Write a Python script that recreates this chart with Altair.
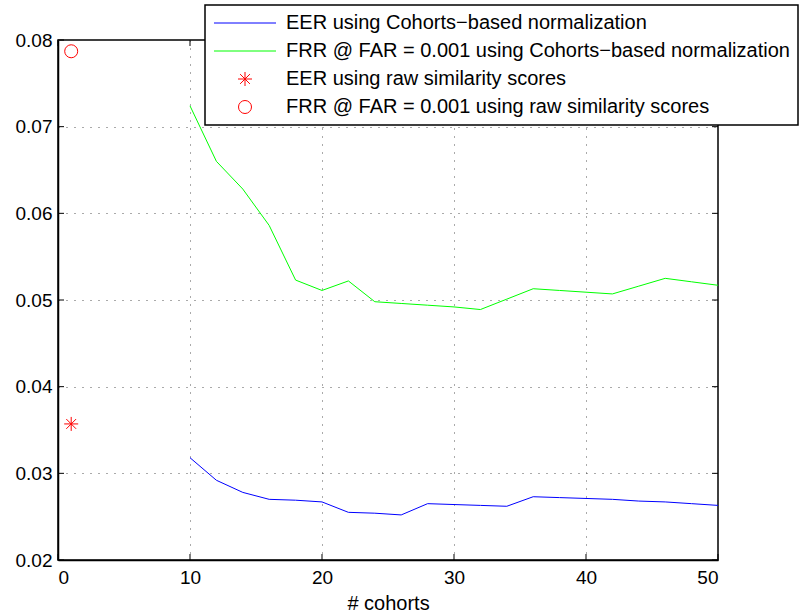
import altair as alt
import pandas as pd

# ---- data ----
cohorts = [10, 12, 14, 16, 18, 20, 22, 24, 26, 28, 30, 32, 34, 36, 38, 40, 42, 44, 46, 48, 50]
eer_cohort = [0.0318, 0.0292, 0.0278, 0.0270, 0.0269, 0.0267, 0.0255, 0.0254, 0.0252, 0.0265, 0.0264,
              0.0263, 0.0262, 0.0273, 0.0272, 0.0271, 0.0270, 0.0268, 0.0267, 0.0265, 0.0263]
frr_cohort = [0.0724, 0.0660, 0.0628, 0.0586, 0.0523, 0.0511, 0.0522, 0.0498, 0.0496, 0.0494, 0.0492,
              0.0489, 0.0501, 0.0513, 0.0511, 0.0509, 0.0507, 0.0516, 0.0525, 0.0521, 0.0517]
raw_x = [1, 1]
raw_values = [0.0357, 0.0787]

series_names = [
    "EER using Cohorts\u2212based normalization",
    "FRR @ FAR = 0.001 using Cohorts\u2212based normalization",
    "EER using raw similarity scores",
    "FRR @ FAR = 0.001 using raw similarity scores",
]
series_colors = ["#0000ff", "#00ff00", "#ff0000", "#ff0000"]
star = "M0,-1L0,1M-1,0L1,0M-0.7,-0.7L0.7,0.7M-0.7,0.7L0.7,-0.7"
legend_line = "M-4.43,0L4.43,0"
series_shapes = [legend_line, legend_line, star, "circle"]
series_sizes = [196, 196, 196, 169]

x_ticks = [0, 10, 20, 30, 40, 50]
y_ticks = [0.02, 0.03, 0.04, 0.05, 0.06, 0.07, 0.08]

eer_df = pd.DataFrame({"x": cohorts, "y": eer_cohort})
frr_df = pd.DataFrame({"x": cohorts, "y": frr_cohort})
raw_df = pd.DataFrame({"x": raw_x, "y": raw_values, "series": [series_names[2], series_names[3]]})
xt_df = pd.DataFrame({"v": x_ticks})
yt_df = pd.DataFrame({"v": y_ticks})

FONT = "Liberation Sans"
W, H = 660, 520

xscale = alt.Scale(domain=[0, 50], nice=False, zero=False)
yscale = alt.Scale(domain=[0.02, 0.08], nice=False, zero=False)

xaxis = alt.Axis(values=x_ticks, format="d", title="# cohorts", grid=True, ticks=False,
                 labelPadding=8, titleY=49, titleBaseline="alphabetic", titleFontWeight="normal",
                 titleFontSize=20)
yaxis = alt.Axis(values=y_ticks, format=".2f", title=None, grid=True, ticks=False, labelPadding=6)

color_scale = alt.Scale(type="ordinal", domain=series_names, range=series_colors)
shape_scale = alt.Scale(type="ordinal", domain=series_names, range=series_shapes)
size_scale = alt.Scale(type="ordinal", domain=series_names, range=series_sizes)

legend = alt.Legend(
    title=None, orient="none", legendX=147, legendY=-35,
    fillColor="white", strokeColor="black",
    padding=8, symbolOffset=22, labelOffset=31, rowPadding=8,
    labelFont=FONT, labelFontSize=20, labelColor="black", labelLimit=700,
    symbolStrokeWidth=1,
)

line_eer = alt.Chart(eer_df).mark_line(strokeWidth=1, color=series_colors[0]).encode(
    x=alt.X("x:Q", scale=xscale, axis=xaxis),
    y=alt.Y("y:Q", scale=yscale, axis=yaxis),
)
line_frr = alt.Chart(frr_df).mark_line(strokeWidth=1, color=series_colors[1]).encode(
    x=alt.X("x:Q", scale=xscale),
    y=alt.Y("y:Q", scale=yscale),
)

points = alt.Chart(raw_df).mark_point(filled=False, strokeWidth=1, opacity=1).encode(
    x=alt.X("x:Q", scale=xscale),
    y=alt.Y("y:Q", scale=yscale),
    color=alt.Color("series:N", scale=color_scale, legend=legend),
    shape=alt.Shape("series:N", scale=shape_scale, legend=legend),
    size=alt.Size("series:N", scale=size_scale, legend=legend),
)

tick_len = 6
xt_bottom = alt.Chart(xt_df).mark_rule(color="black", strokeWidth=1).encode(
    x=alt.X("v:Q", scale=xscale), y=alt.value(H), y2=alt.value(H - tick_len))
xt_top = alt.Chart(xt_df).mark_rule(color="black", strokeWidth=1).encode(
    x=alt.X("v:Q", scale=xscale), y=alt.value(0), y2=alt.value(tick_len))
yt_left = alt.Chart(yt_df).mark_rule(color="black", strokeWidth=1).encode(
    y=alt.Y("v:Q", scale=yscale), x=alt.value(0), x2=alt.value(tick_len))
yt_right = alt.Chart(yt_df).mark_rule(color="black", strokeWidth=1).encode(
    y=alt.Y("v:Q", scale=yscale), x=alt.value(W), x2=alt.value(W - tick_len))

chart = alt.layer(line_eer, line_frr, points, xt_bottom, xt_top, yt_left, yt_right).properties(
    width=W, height=H,
    padding={"left": 58, "top": 40, "right": 83, "bottom": 55},
    autosize=alt.AutoSizeParams(type="none"),
    background="white",
).configure_view(
    stroke="black", strokeWidth=1.5
).configure_legend(
    strokeWidth=1.5
).configure_axis(
    labelFont=FONT, labelFontSize=19, labelColor="black",
    titleFont=FONT, titleColor="black",
    domainColor="black", domainWidth=1.5,
    gridColor="#444444", gridDash=[1, 7], gridWidth=1, gridOpacity=0.9,
)

chart.save("out.html", embed_options={"renderer": "svg", "actions": False})
